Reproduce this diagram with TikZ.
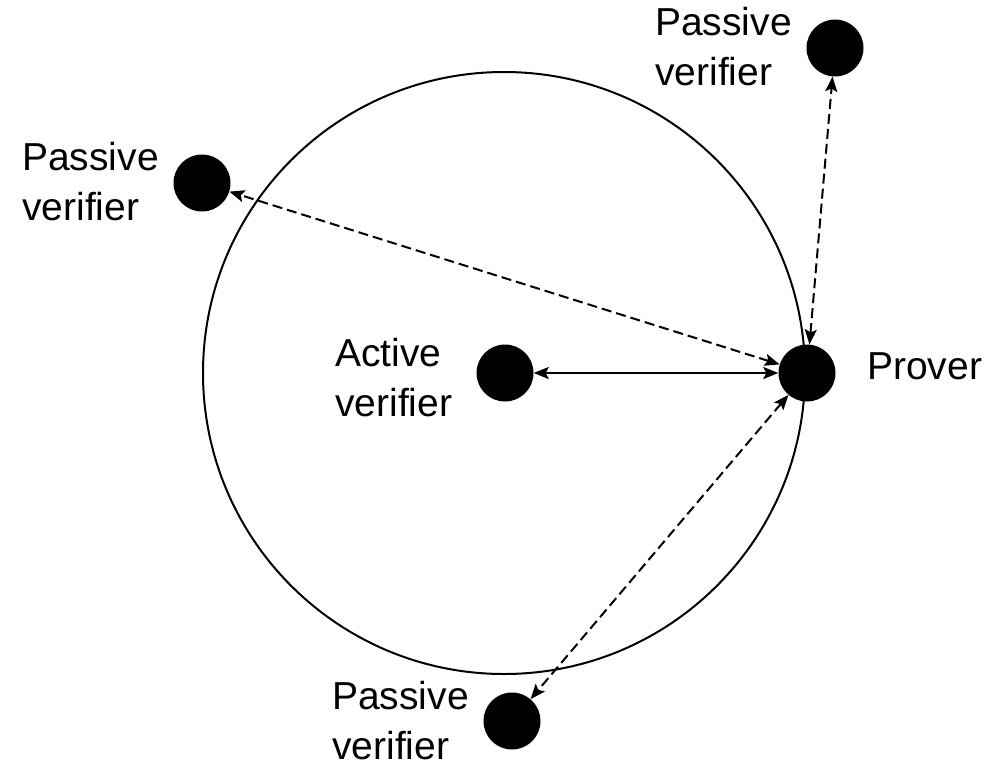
\documentclass[tikz,border=0pt]{standalone}
\usepackage{fontspec}
\setmainfont{Liberation Sans}
\usetikzlibrary{arrows.meta}
\begin{document}
\begin{tikzpicture}[x=1pt,y=-1pt,
  dot/.style={circle,fill=black,minimum size=57pt,inner sep=0pt},
  % base anchor of a two-line label sits on the baseline of its last line
  lbl/.style={align=left,anchor=base west,font=\fontsize{39}{50}\selectfont,inner sep=0pt},
  link/.style={line width=2pt,{Stealth[length=15pt,width=12pt,inset=3pt]}-{Stealth[length=15pt,width=12pt,inset=3pt]}},
  dlink/.style={link,dash pattern=on 10pt off 5pt}]
  \useasboundingbox (0,0) rectangle (989,761);
  % range circle
  \draw[line width=2pt] (504,373) circle (301);
  % participants
  \node[dot] (prover) at (807,373) {};
  \node[dot] (active) at (505,373) {};
  \node[dot] (ptop) at (835,48) {};
  \node[dot] (pleft) at (202,183) {};
  \node[dot] (pbot) at (512,721) {};
  % labels
  \node[lbl] (lprover) at (867,379) {Prover};
  \node[lbl] (lactive) at (335,416) {Active\\verifier};
  \node[lbl] (ltop) at (655,85) {Passive\\verifier};
  \node[lbl] (lleft) at (22,220) {Passive\\verifier};
  \node[lbl] (lbot) at (332,759) {Passive\\verifier};
  % links
  \draw[link] (active) -- (prover);
  \draw[dlink] (prover) -- (pleft);
  \draw[dlink] (prover) -- (ptop);
  \draw[dlink] (prover) -- (pbot);
\end{tikzpicture}
\end{document}
